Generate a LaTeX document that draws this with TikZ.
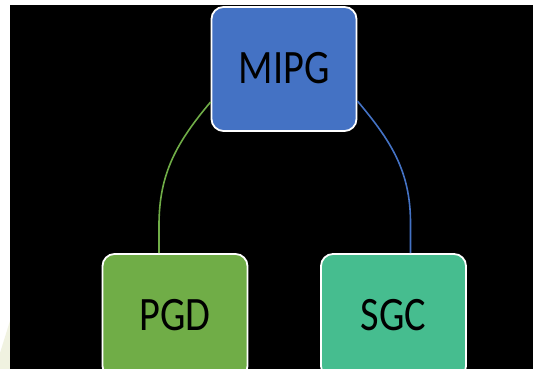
\documentclass[tikz,border=0pt]{standalone}
\usepackage{fontspec}
\setmainfont{Carlito}
\definecolor{boxblue}{RGB}{68,114,196}
\definecolor{boxgreen}{RGB}{112,173,71}
\definecolor{boxteal}{RGB}{70,189,143}
\definecolor{cream}{RGB}{240,242,224}
\tikzset{
  orgbox/.style={draw=white, line width=1.8pt, rounded corners=12pt,
    minimum width=145pt, minimum height=124pt, inner sep=0pt,
    text height=30pt, text depth=0pt,
    font=\fontsize{48}{48}\selectfont, text=black},
  link/.style={line width=1.6pt},
}
\newcommand{\boxlabel}[1]{\scalebox{0.84}[1]{#1}}
\begin{document}
\begin{tikzpicture}[x=1pt,y=1pt]
  \useasboundingbox (0,0) rectangle (533,369);
  % page and dark backdrop
  \fill[white] (0,0) rectangle (533,369);
  \fill[cream] (0,0) -- (10,0) -- (10,48) -- (0,16) -- cycle;
  \fill[black] (10,0) rectangle (533,364);
  \begin{scope}
    \clip (10,0) rectangle (533,364);
    % boxes
    \node[orgbox, fill=boxblue] (mipg) at (284,300) {\boxlabel{MIPG}};
    \node[orgbox, fill=boxgreen] (pgd) at (175,53) {\boxlabel{PGD}};
    \node[orgbox, fill=boxteal] (sgc) at (393.5,53) {\boxlabel{SGC}};
    % connectors
    \draw[link, draw=boxgreen] ([yshift=-33pt]mipg.west)
      to[out=230, in=90] ([xshift=-16pt,yshift=28pt]pgd.north)
      -- ([xshift=-16pt]pgd.north);
    \draw[link, draw=boxblue] ([yshift=-32pt]mipg.east)
      to[out=-50, in=90] ([xshift=17pt,yshift=30pt]sgc.north)
      -- ([xshift=17pt]sgc.north);
  \end{scope}
\end{tikzpicture}
\end{document}
